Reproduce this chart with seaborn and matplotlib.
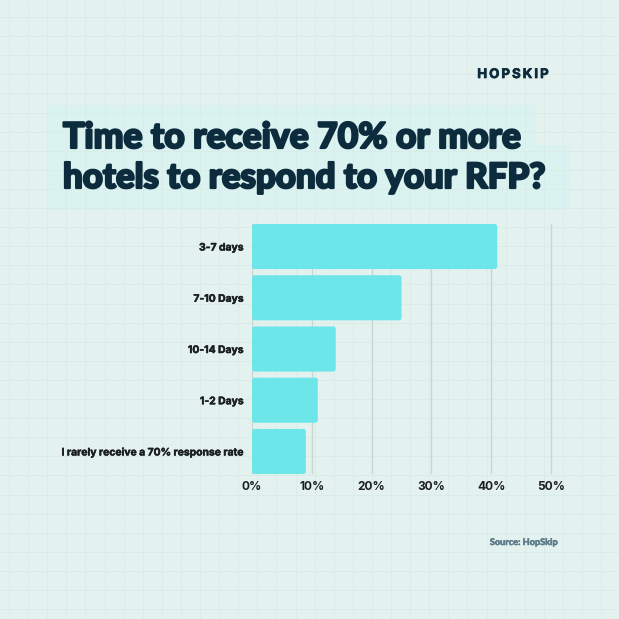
import matplotlib
matplotlib.use("Agg")
import matplotlib.pyplot as plt
import matplotlib.patheffects as pe
import seaborn as sns
import pandas as pd
from matplotlib.patches import Rectangle, FancyBboxPatch
from matplotlib.ticker import FuncFormatter

# ---- data ----
categories = ["3-7 days", "7-10 Days", "10-14 Days", "1-2 Days",
              "I rarely receive a 70% response rate"]
values = [41, 25, 14, 11, 9]
x_ticks = [0, 10, 20, 30, 40, 50]
title_lines = ["Time to receive 70% or more", "hotels to respond to your RFP?"]
brand = "HOPSKIP"
source = "Source: HopSkip"

df = pd.DataFrame({"category": categories, "value": values})

# ---- style ----
BG = "#E4F2EF"
GRID_BG = "#DBECE8"
BOX = "#DAF3F1"
BAR = "#6CE6E9"
NAVY = "#0C2B3D"
TXT = "#1B1F22"

sns.set_theme(style="white")
plt.rcParams["font.family"] = ["Inter", "DejaVu Sans"]

W = H = 619
fig = plt.figure(figsize=(W / 100, H / 100), dpi=100, facecolor=BG)

def fx(px):
    return px / W

def fy(py):
    return 1 - py / H

# background grid
bg = fig.add_axes([0, 0, 1, 1], zorder=0)
bg.set_xlim(0, W)
bg.set_ylim(H, 0)
bg.axis("off")
bg.set_facecolor(BG)
step = 19.1
k = 0
while 9 + k * step < W:
    bg.axvline(9 + k * step, color=GRID_BG, lw=0.7)
    k += 1
k = 0
while 17 + k * step < H:
    bg.axhline(17 + k * step, color=GRID_BG, lw=0.7)
    k += 1

# title boxes
bg.add_patch(Rectangle((47, 105), 536 - 47, 160 - 105, color=BOX, lw=0))
bg.add_patch(Rectangle((47, 145), 570 - 47, 210 - 145, color=BOX, lw=0))

# title text, fitted to width
renderer = fig.canvas.get_renderer()
heavy = [pe.withStroke(linewidth=1.6, foreground=NAVY)]
t1 = fig.text(fx(63), fy(148), title_lines[0], fontsize=24, color=NAVY,
              family=["Lato", "DejaVu Sans"], weight="black", va="baseline", ha="left",
              path_effects=heavy)
t2 = fig.text(fx(63), fy(188), title_lines[1], fontsize=24, color=NAVY,
              family=["Lato", "DejaVu Sans"], weight="black", va="baseline", ha="left",
              path_effects=heavy)
for t, target in ((t1, 458), (t2, 482)):
    w = t.get_window_extent(renderer).width
    t.set_fontsize(24 * target / w)

# brand
fig.text(fx(549), fy(78), "\u2009".join(brand), fontsize=9.5, color=NAVY,
         weight="bold", va="baseline", ha="right",
         path_effects=[pe.withStroke(linewidth=0.5, foreground=NAVY)])

# source
fig.text(fx(557), fy(545), source, fontsize=6.6, color="#5D7C8A",
         family=["Lato", "DejaVu Sans"], weight="bold", va="baseline", ha="right",
         path_effects=[pe.withStroke(linewidth=0.4, foreground="#5D7C8A")])

# ---- chart ----
ax = fig.add_axes([fx(252), fy(474), fx(557) - fx(252), (474 - 224) / H], zorder=2)
ax.set_facecolor("none")
sns.barplot(data=df, y="category", x="value", orient="h", color=BAR,
            width=0.88, ax=ax, zorder=3, saturation=1)

# rounded bars
px_x = (557 - 252) / 51.0
px_y = 250 / 4.88
aspect = px_x / px_y
for p in list(ax.patches):
    x0, y0 = p.get_x(), p.get_y()
    w, h = p.get_width(), p.get_height()
    p.remove()
    r = 2.5 / px_x
    ax.add_patch(FancyBboxPatch((x0, y0), w, h,
                                boxstyle=f"round,pad=0,rounding_size={r}",
                                mutation_aspect=aspect, fc=BAR, ec="none", zorder=3))

ax.set_xlim(0, 51)
ax.set_ylim(4.44, -0.44)
ax.set_xticks(x_ticks)
ax.xaxis.set_major_formatter(FuncFormatter(lambda v, _: f"{v:.0f}%"))
ax.grid(axis="x", color="#C9D6D3", lw=1.0, zorder=1)
ax.grid(axis="y", visible=False)
ax.set_axisbelow(True)
for s in ax.spines.values():
    s.set_visible(False)
ax.set_xlabel("")
ax.set_ylabel("")
ax.tick_params(axis="both", length=0)
ax.tick_params(axis="y", pad=6)
ax.tick_params(axis="x", pad=5)
for lab in ax.get_xticklabels():
    lab.set_fontsize(8.6)
    lab.set_fontweight("bold")
    lab.set_color(TXT)
ylabs = ax.get_yticklabels()
for lab in ylabs:
    lab.set_fontsize(9)
    lab.set_fontweight("bold")
    lab.set_color(TXT)
    lab.set_path_effects([pe.withStroke(linewidth=0.35, foreground=TXT)])
# fit longest label width (~182 px)
longest = ylabs[-1]
wl = longest.get_window_extent(renderer).width
fs = 9 * 182 / wl
for lab in ylabs:
    lab.set_fontsize(fs)

fig.savefig("out.png", dpi=100, facecolor=BG)
